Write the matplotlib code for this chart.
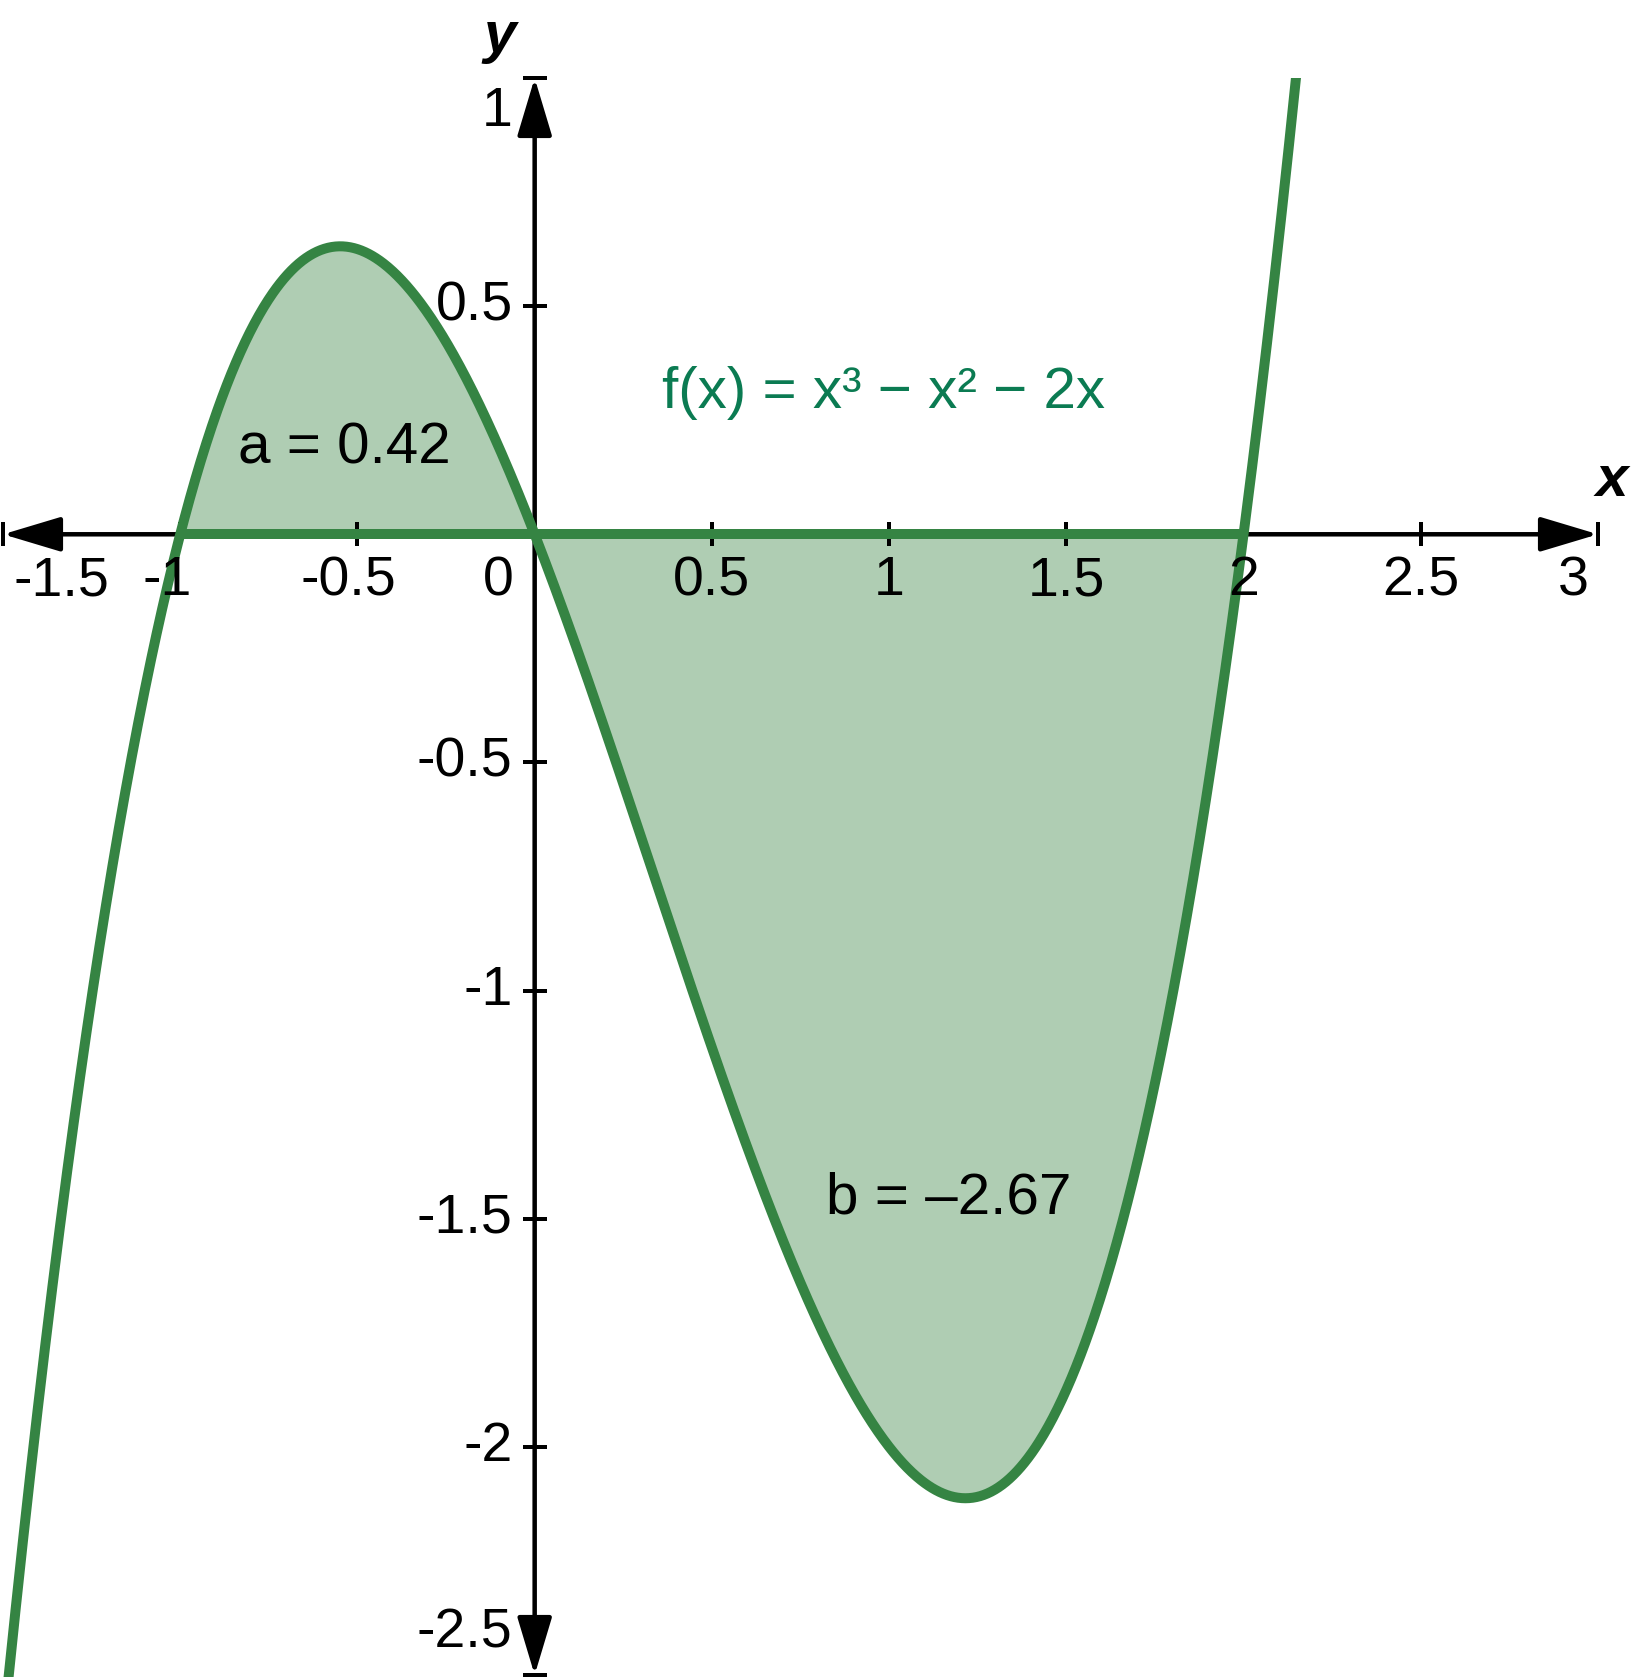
import numpy as np
import matplotlib
matplotlib.use('Agg')
import matplotlib.pyplot as plt
from matplotlib.patches import Rectangle

# ---- data -------------------------------------------------------------
coefficients = [1, -1, -2, 0]          # f(x) = x^3 - x^2 - 2x
x_ends = (-1.5, 3.0)
y_ends = (-2.5, 1.0)
x_ticks = [-1.5, -1, -0.5, 0.5, 1, 1.5, 2, 2.5, 3]
x_tick_labels = ['-1.5', '-1', '-0.5', '0', '0.5', '1', '1.5', '2', '2.5', '3']
x_label_values = [-1.5, -1, -0.5, 0, 0.5, 1, 1.5, 2, 2.5, 3]
y_ticks = [1, 0.5, -0.5, -1, -1.5, -2, -2.5]
y_tick_labels = ['1', '0.5', '-0.5', '-1', '-1.5', '-2', '-2.5']
shade_from, shade_to = -1, 2
formula_text = 'f(x) = x³ − x² − 2x'
area_labels = ['a = 0.42', 'b = –2.67']
area_label_pos = [(-0.536, 0.188), (1.168, -1.455)]
formula_pos = (0.985, 0.31)

# ---- style ------------------------------------------------------------
CURVE = '#358443'
FILL = '#AFCDB3'
FORMULA = '#0B7B52'
FONT = 'Liberation Sans'
plt.rcParams['font.family'] = [FONT, 'DejaVu Sans']

W, H = 1632, 1677
DPI = 100
fig = plt.figure(figsize=(W / DPI, H / DPI), dpi=DPI)
ax = fig.add_axes([0, 0, 1, 1])

# pixel mapping: x=-1.5 -> px 3, x=3 -> px 1598; y=1 -> px 78 (from top), y=-2.5 -> px 1675
sx = (1598 - 3) / 4.5
sy = (1675 - 78) / 3.5
ax.set_xlim(-1.5 - 3 / sx, 3 + (W - 1598) / sx)
ax.set_ylim(-2.5 - (H - 1675) / sy, 1 + 78 / sy)
ax.axis('off')

PX = 72 / DPI  # points per pixel

# shaded area
xs = np.linspace(shade_from, shade_to, 600)
ax.fill_between(xs, np.polyval(coefficients, xs), 0, color=FILL, lw=0, zorder=1)

# axes with arrows
arrow_style = '<|-|>,head_length=0.4,head_width=0.12'
for xy, xyt in [((x_ends[0], 0), (x_ends[1], 0)), ((0, y_ends[0]), (0, y_ends[1]))]:
    ax.annotate('', xy=xy, xytext=xyt,
                arrowprops=dict(arrowstyle=arrow_style, mutation_scale=90,
                                lw=4.5 * PX, color='black', shrinkA=0, shrinkB=0),
                zorder=2)

# ticks
ax.plot(x_ticks, [0] * len(x_ticks), ls='none', marker='|', ms=24 * PX,
        mew=4 * PX, color='black', zorder=2)
ax.plot([0] * len(y_ticks), y_ticks, ls='none', marker='_', ms=24 * PX,
        mew=4 * PX, color='black', zorder=2)

# green baseline of the shaded region
ax.plot([shade_from, shade_to], [0, 0], color=CURVE, lw=10 * PX,
        solid_capstyle='butt', zorder=3)

# curve
xc = np.linspace(-1.6, 2.3, 1500)
line, = ax.plot(xc, np.polyval(coefficients, xc), color=CURVE, lw=10 * PX, zorder=4)
clip = Rectangle((-2, -3), 6, 4.0, transform=ax.transData)
line.set_clip_path(clip)

# tick labels
fs_tick = 40
x_offsets = {'-1.5': 58, '-1': -13, '-0.5': -9, '0': -36, '3': -25}
for v, lab in zip(x_label_values, x_tick_labels):
    dx = x_offsets.get(lab, 0)
    ax.annotate(lab, xy=(v, 0), xytext=(dx * PX, -47 * PX), textcoords='offset points',
                ha='center', va='center', fontsize=fs_tick, zorder=5)
y_offsets = {'1': -34, '-2.5': 42}
for v, lab in zip(y_ticks, y_tick_labels):
    dy = y_offsets.get(lab, 0)
    ax.annotate(lab, xy=(0, v), xytext=(-22 * PX, dy * PX), textcoords='offset points',
                ha='right', va='center', fontsize=fs_tick, zorder=5)

# axis names
ax.text(-0.10, 1 + 41 / sy, 'y', fontsize=42, fontstyle='italic', fontweight='bold',
        ha='center', va='center', clip_on=False, zorder=5)
ax.text(3 + 14 / sx, 0.116, 'x', fontsize=42, fontstyle='italic', fontweight='bold',
        ha='center', va='center', clip_on=False, zorder=5)

# annotations
ax.text(*formula_pos, formula_text, color=FORMULA, fontsize=42, ha='center', va='center', zorder=5)
for (px_, py_), lab in zip(area_label_pos, area_labels):
    ax.text(px_, py_, lab, color='black', fontsize=42, ha='center', va='center', zorder=5)

fig.savefig('out.png', dpi=DPI, facecolor='white')
